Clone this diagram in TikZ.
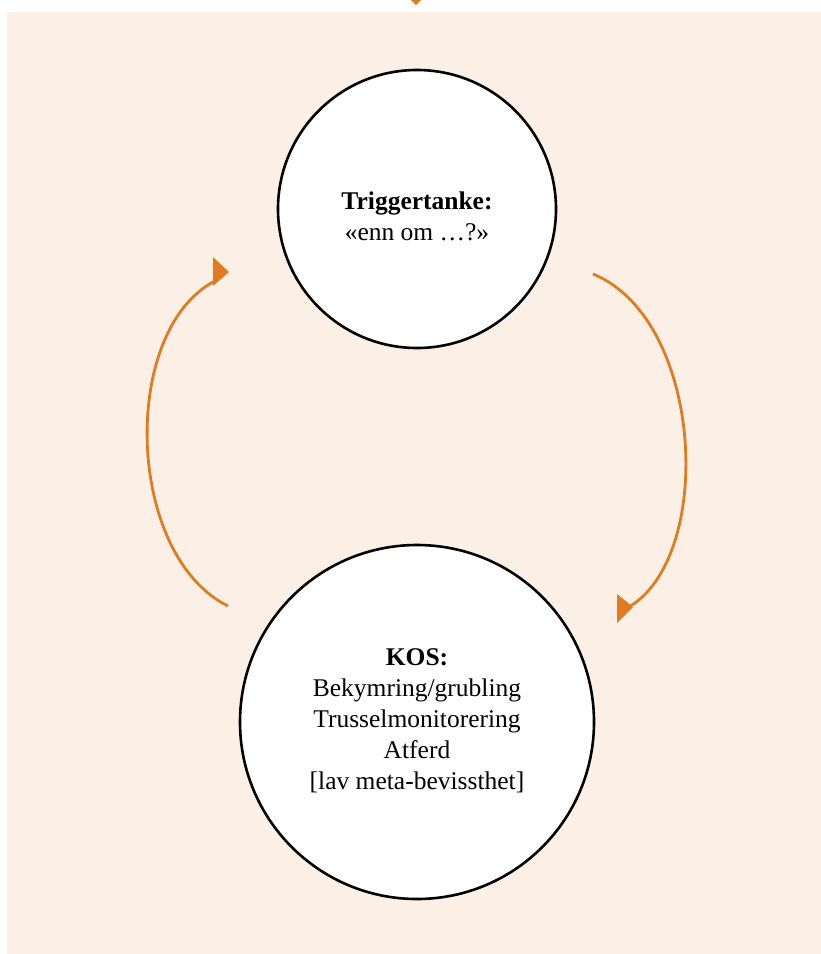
\documentclass[tikz,border=0pt]{standalone}
\usepackage{fontspec}
\setmainfont{Liberation Serif}
\definecolor{bgbeige}{HTML}{FCF0E6}
\definecolor{arroworange}{HTML}{E07B1F}
\begin{document}
\begin{tikzpicture}[x=1pt,y=-1pt,
  circ/.style={circle,draw=black,line width=2.6pt,fill=white,inner sep=0pt},
  lbl/.style={align=center,font=\fontsize{25.5}{31}\selectfont},
  flow/.style={draw=arroworange,line width=2.8pt},
  tipfill/.style={fill=arroworange}]
\useasboundingbox (0,0) rectangle (821,954);
\fill[bgbeige] (7,12) rectangle (821,954);
% top partial arrow tip
\fill[tipfill] (411,0) -- (421,0) -- (416,5) -- cycle;
% circles
\node[circ,minimum size=278pt] (trig) at (417,209) {};
\node[lbl] (trigtxt) at (417,216) {\textbf{Triggertanke:}\\«enn om …?»};
\node[circ,minimum size=354pt] (kos) at (417,722) {};
\node[lbl] (kostxt) at (417,721) {\textbf{KOS:}\\Bekymring/grubling\\Trusselmonitorering\\Atferd\\{[}lav meta-bevissthet{]}};
% connector end points
\coordinate (rs) at (593,274);
\coordinate (re) at (627,608);
\coordinate (ls) at (228,606);
\coordinate (le) at (215,281);
\draw[flow] (rs) .. controls (705,320) and (715,560) .. (re);
\draw[flow] (ls) .. controls (125,555) and (120,330) .. (le);
% arrow heads (fixed orientation triangles)
\fill[tipfill] (617,594) -- (617,623) -- (633,607) -- cycle;
\fill[tipfill] (213,257) -- (213,286) -- (229,272) -- cycle;
\end{tikzpicture}
\end{document}
